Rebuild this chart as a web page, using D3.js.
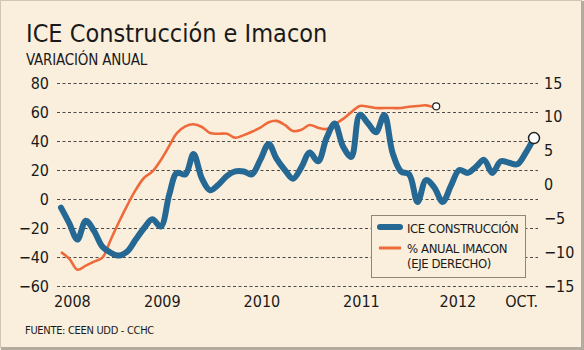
<!DOCTYPE html>
<html>
<head>
<meta charset="utf-8">
<script src="https://cdn.jsdelivr.net/npm/d3@7"></script>
<style>
  html, body { margin: 0; padding: 0; background: #faefdd; }
  svg { display: block; }
  text { font-family: "DejaVu Sans Condensed", "Liberation Sans Narrow", "Liberation Sans", sans-serif; fill: #1a1a1a; }
  .grid line { stroke: #4a4a4a; stroke-dasharray: 3 2.5; stroke-width: 1; }
</style>
</head>
<body>
<div id="chart"></div>
<script>
// monthly, Jan 2008 .. Oct 2012
const startMonth = "2008-01";
const iceConstruccion = [
    -6, -17, -28, -15, -22, -33, -37, -39, -36, -28, -20, -14,
    -19, 3, 18, 17, 31, 14, 6, 10, 16, 19, 19, 17,
    27, 38, 28, 20, 14, 22, 32, 26, 42, 52, 36, 29,
    58, 52, 46, 58, 32, 19, 17, -2, 13, 8, -2, 9,
    20, 18, 22, 27, 18, 26, 25, 24, 32, 42
];
// right axis, Jan 2008 .. Oct 2011
const imaconAnual = [
    -10.0, -11.0, -12.6, -12.0, -11.4, -10.8, -8.2, -5.5, -3.0, -0.8, 1.0, 1.9,
    3.6, 5.7, 7.6, 8.6, 8.9, 8.5, 7.6, 7.5, 7.5, 6.9, 7.3, 7.8,
    8.4, 9.2, 9.4, 8.8, 7.9, 8.1, 8.8, 8.4, 8.2, 8.9, 9.7, 10.7,
    11.6, 11.5, 11.3, 11.3, 11.3, 11.3, 11.5, 11.6, 11.7, 11.4
];
const leftTicks = [-60, -40, -20, 0, 20, 40, 60, 80];
const rightTicks = [-15, -10, -5, 0, 5, 10, 15];
const xTickDates = ["2008-02-10", "2009-01-05", "2010-01-05", "2011-01-05", "2011-12-25", "2012-08-15"];
const xTickLabels = ["2008", "2009", "2010", "2011", "2012", "OCT."];
const legendLabels = ["ICE CONSTRUCCIÓN", "% ANUAL IMACON", "(EJE DERECHO)"];

const W = 584, H = 350;
const parseDay = d3.timeParse("%Y-%m-%d");
const parseMonth = d3.timeParse("%Y-%m");
const t0 = parseMonth(startMonth);
const monthAt = i => d3.timeMonth.offset(t0, i);

const blueData = iceConstruccion.map((v, i) => ({ date: monthAt(i), value: v }));
const orangeData = imaconAnual.map((v, i) => ({ date: monthAt(i), value: v }));

const svg = d3.select("#chart").append("svg")
    .attr("width", W)
    .attr("height", H);

// frame
svg.append("rect").attr("x", 0).attr("y", 0).attr("width", W).attr("height", H).attr("fill", "#faefdd");
svg.append("rect").attr("x", 0.5).attr("y", 0.5).attr("width", W - 3).attr("height", H - 3)
    .attr("fill", "none").attr("stroke", "#cfc6b6");
svg.append("line").attr("x1", W - 1.5).attr("x2", W - 1.5).attr("y1", 1).attr("y2", H)
    .attr("stroke", "#b3ab9e").attr("stroke-width", 3);
svg.append("line").attr("x1", 1).attr("x2", W).attr("y1", H - 1.5).attr("y2", H - 1.5)
    .attr("stroke", "#b3ab9e").attr("stroke-width", 3);

const gridLeft = 57, gridRight = 538;
const x = d3.scaleTime().domain([monthAt(0), monthAt(57)]).range([61, 534]);
const yL = d3.scaleLinear().domain([-60, 80]).range([286, 83]);
const yR = d3.scaleLinear().domain([-15, 15]).range([286, 83]);

svg.append("text").attr("x", 26).attr("y", 42)
    .style("font-size", "25px")
    .text("ICE Construcción e Imacon");
svg.append("text").attr("x", 26).attr("y", 65)
    .style("font-size", "15px")
    .attr("letter-spacing", "-0.2")
    .text("VARIACIÓN ANUAL");

// left axis with dashed grid
const gAxisL = svg.append("g")
    .attr("class", "grid")
    .attr("transform", `translate(${gridLeft},0)`)
    .call(d3.axisLeft(yL).tickValues(leftTicks).tickSize(-(gridRight - gridLeft)).tickPadding(8));
gAxisL.select(".domain").remove();
gAxisL.selectAll("text").style("font-size", "16px").attr("fill", "#1a1a1a");

const gAxisR = svg.append("g")
    .attr("transform", `translate(${gridRight},0)`)
    .call(d3.axisRight(yR).tickValues(rightTicks).tickSize(0).tickPadding(6));
gAxisR.select(".domain").remove();
gAxisR.selectAll("text").style("font-size", "16px").attr("fill", "#1a1a1a");

const gAxisX = svg.append("g")
    .attr("transform", "translate(0,286)")
    .call(d3.axisBottom(x)
        .tickValues(xTickDates.map(parseDay))
        .tickFormat((d, i) => xTickLabels[i])
        .tickSize(0).tickPadding(10));
gAxisX.select(".domain").remove();
gAxisX.selectAll("text").style("font-size", "16px").attr("fill", "#1a1a1a");

svg.append("text").attr("x", 25).attr("y", 334)
    .style("font-size", "11px")
    .attr("letter-spacing", "-0.3")
    .text("FUENTE: CEEN UDD - CCHC");

// legend box (drawn before lines, over grid)
const lg = svg.append("g").attr("transform", "translate(371,215)");
lg.append("rect").attr("x", 0.5).attr("y", 0.5).attr("width", 154).attr("height", 62)
    .attr("fill", "#faefdd").attr("stroke", "#8f8678");
lg.append("line").attr("x1", 9).attr("x2", 29).attr("y1", 12).attr("y2", 12)
    .attr("stroke", "#266894").attr("stroke-width", 6).attr("stroke-linecap", "round");
lg.append("line").attr("x1", 8).attr("x2", 30).attr("y1", 33).attr("y2", 33)
    .attr("stroke", "#ee6a3b").attr("stroke-width", 3);
lg.selectAll("text.lbl").data(legendLabels).enter().append("text")
    .attr("class", "lbl")
    .attr("x", 36)
    .attr("y", (d, i) => [18, 38, 53][i])
    .style("font-size", "13px")
    .attr("letter-spacing", "-0.4")
    .text(d => d);

// series
const lineL = d3.line().x(d => x(d.date)).y(d => yL(d.value)).curve(d3.curveCatmullRom.alpha(0.5));
const lineR = d3.line().x(d => x(d.date)).y(d => yR(d.value)).curve(d3.curveCatmullRom.alpha(0.5));

svg.append("path").datum(orangeData)
    .attr("d", lineR)
    .attr("fill", "none")
    .attr("stroke", "#ee6a3b")
    .attr("stroke-width", 2.6)
    .attr("stroke-linejoin", "round");

svg.append("path").datum(blueData)
    .attr("d", lineL)
    .attr("fill", "none")
    .attr("stroke", "#266894")
    .attr("stroke-width", 6)
    .attr("stroke-linejoin", "round")
    .attr("stroke-linecap", "round");

const lastO = orangeData[orangeData.length - 1];
svg.append("circle")
    .attr("cx", x(lastO.date) + 2).attr("cy", yR(lastO.value) - 1)
    .attr("r", 3.5)
    .attr("fill", "#fff").attr("stroke", "#222").attr("stroke-width", 1.2);

const lastB = blueData[blueData.length - 1];
svg.append("circle")
    .attr("cx", x(lastB.date)).attr("cy", yL(lastB.value))
    .attr("r", 5.5)
    .attr("fill", "#fff").attr("stroke", "#222").attr("stroke-width", 1.5);
</script>
</body>
</html>
